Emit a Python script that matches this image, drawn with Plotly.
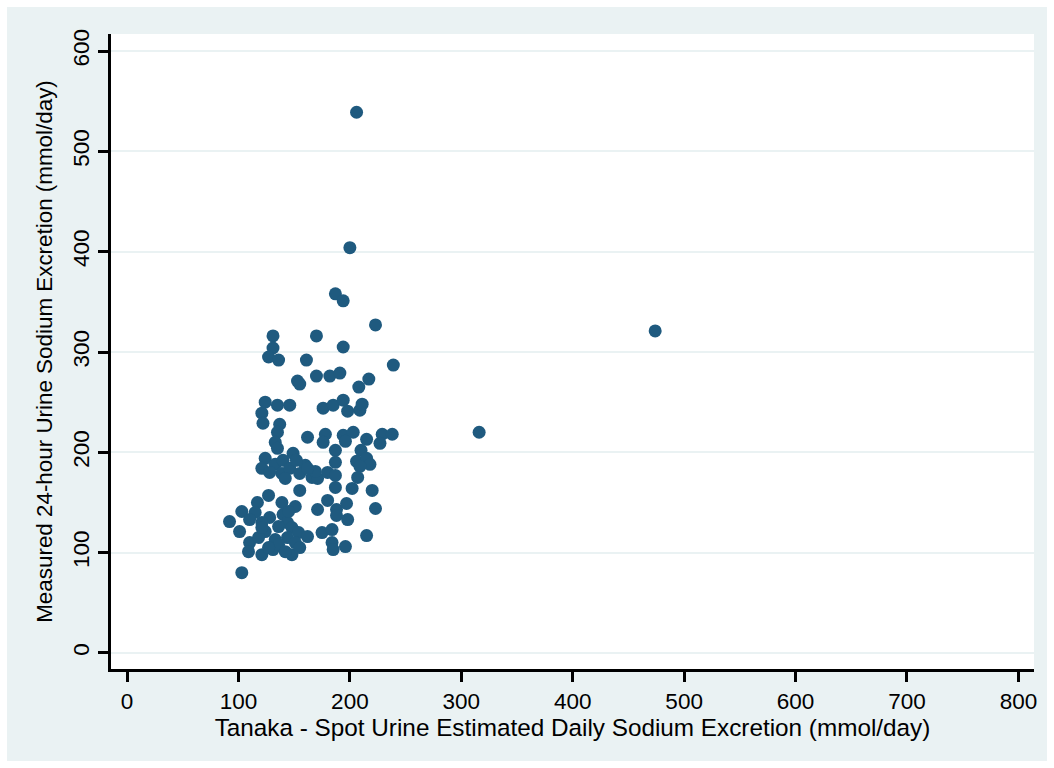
import plotly.graph_objects as go

# Tanaka spot-urine estimate (x) vs measured 24-h urine sodium (y), mmol/day
tanaka_est = [
    206, 200, 474, 316, 187, 194, 223, 131, 170, 131,
    194, 127, 136, 161, 239, 153, 155, 170, 182, 191,
    217, 208, 124, 135, 146, 176, 185, 194, 198, 209,
    211, 121, 122, 137, 135, 162, 178, 176, 194, 203,
    196, 215, 229, 238, 227, 133, 135, 187, 210, 124,
    121, 133, 140, 149, 139, 146, 160, 155, 166, 171,
    169, 180, 187, 187, 206, 215, 218, 209, 207, 155,
    187, 202, 220, 127, 117, 139, 151, 103, 115, 128,
    140, 171, 180, 188, 197, 188, 198, 223, 92, 121,
    144, 110, 101, 124, 136, 148, 154, 162, 175, 184,
    215, 110, 133, 144, 151, 109, 121, 131, 148, 184,
    185, 196, 103, 162, 128, 142, 152, 145, 136, 127,
    142, 118, 155, 121,
]
measured_24h = [
    539, 404, 321, 220, 358, 351, 327, 316, 316, 304,
    305, 295, 292, 292, 287, 271, 268, 276, 276, 279,
    273, 265, 250, 247, 247, 244, 247, 252, 241, 242,
    248, 239, 229, 228, 220, 215, 218, 210, 217, 220,
    211, 213, 218, 218, 209, 210, 204, 202, 202, 194,
    184, 188, 192, 199, 179, 184, 187, 179, 175, 174,
    181, 180, 177, 190, 191, 194, 188, 186, 175, 162,
    165, 164, 162, 157, 150, 150, 146, 141, 140, 135,
    138, 143, 152, 143, 149, 137, 133, 144, 131, 130,
    130, 133, 121, 121, 126, 125, 120, 116, 120, 123,
    117, 110, 113, 115, 110, 101, 98, 103, 98, 110,
    103, 106, 80, 184, 180, 174, 192, 141, 108, 105,
    101, 115, 105, 125,
]

x_ticks = [0, 100, 200, 300, 400, 500, 600, 700, 800]
y_ticks = [0, 100, 200, 300, 400, 500, 600]
x_title = "Tanaka - Spot Urine Estimated Daily Sodium Excretion (mmol/day)"
y_title = "Measured 24-hour Urine Sodium Excretion (mmol/day)"

BG = "#EAF2F3"
MARK = "#1f5a7f"
FONT = "Liberation Sans, Arial, Helvetica, sans-serif"

fig = go.Figure()
fig.add_trace(go.Scatter(
    x=tanaka_est, y=measured_24h, mode="markers",
    marker=dict(size=13, color=MARK, line=dict(width=0)),
    showlegend=False, hoverinfo="x+y",
))

fig.update_layout(
    width=1054, height=768,
    margin=dict(l=111, r=20, t=34, b=99, autoexpand=False),
    paper_bgcolor="white", plot_bgcolor="white",
    font=dict(family=FONT, size=22, color="black"),
    shapes=[
        dict(type="rect", xref="paper", yref="paper", layer="below",
             x0=-0.1127, x1=1.0141, y0=-0.1449, y1=1.0425,
             fillcolor=BG, line=dict(width=0)),
        dict(type="rect", xref="paper", yref="paper", layer="below",
             x0=0, x1=1, y0=0, y1=1,
             fillcolor="white", line=dict(width=0)),
    ],
)
fig.update_xaxes(
    range=[-14.4, 814], tickvals=x_ticks, ticktext=[str(v) for v in x_ticks],
    showgrid=False, zeroline=False,
    showline=True, linecolor="black", linewidth=2.5,
    ticks="outside", ticklen=10, tickwidth=2.5, tickcolor="black",
    tickfont=dict(size=22.5),
    title=dict(text=x_title, standoff=7, font=dict(size=24.3)),
    automargin=False,
)
fig.update_yaxes(
    range=[-16, 617], tickvals=y_ticks, ticktext=[str(v) for v in y_ticks],
    showgrid=True, gridcolor=BG, gridwidth=2, zeroline=False,
    showline=True, linecolor="black", linewidth=2.5,
    ticks="outside", ticklen=10, tickwidth=2.5, tickcolor="black",
    tickangle=-90, tickfont=dict(size=22.5),
    title=dict(text=y_title, standoff=11, font=dict(size=22.4)),
    automargin=False,
)

fig.write_html("out.html")
